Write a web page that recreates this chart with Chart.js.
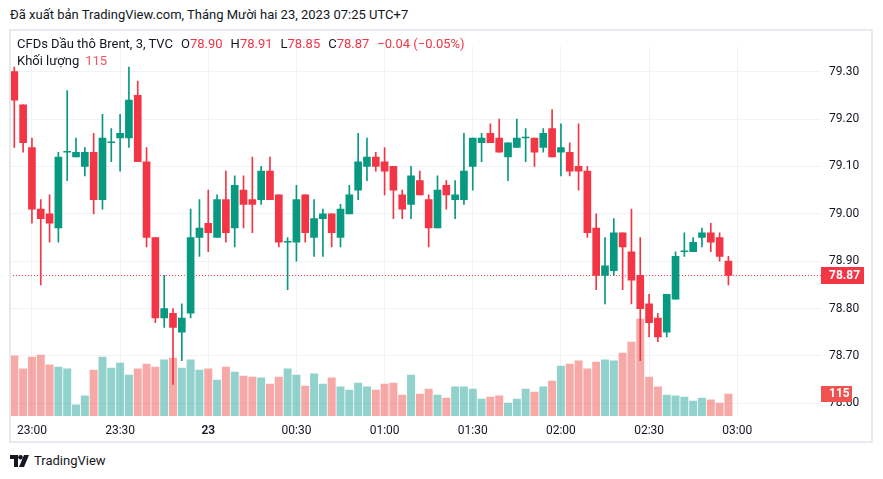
<!DOCTYPE html>
<html>
<head>
<meta charset="utf-8">
<script src="https://cdn.jsdelivr.net/npm/chart.js@4/dist/chart.umd.min.js"></script>
<style>
  html, body { margin:0; padding:0; background:#fff; }
  body { width:883px; height:479px; position:relative; overflow:hidden; font-family: Roboto, "Open Sans", sans-serif; color:#131722; }
  #pub { position:absolute; left:10px; top:6px; font-size:13px; line-height:18px; color:#131722; white-space:nowrap; }
  #box { position:absolute; left:9px; top:29px; width:860px; height:410px; border:2px solid #e8e9ef; }
  #wrap { position:absolute; left:0; top:0; width:860px; height:410px; overflow:hidden; }
  #c { position:absolute; left:-2px; top:0; }
  #leg { position:absolute; left:6px; top:4px; font-size:13px; line-height:17px; white-space:nowrap; z-index:2; }
  #leg .g { margin-left:8px; }
  #leg .r { color:#f23645; }
  #leg .v { color:#f7525f; margin-left:6px; }
  #brand { position:absolute; left:10px; top:452px; font-size:13px; line-height:18px; display:flex; align-items:center; color:#131722; }
  #brand svg { margin-right:5px; }
</style>
</head>
<body>
<div id="pub">Đã xuất bản TradingView.com, Tháng Mười hai 23, 2023 07:25 UTC+7</div>
<div id="box">
  <div id="wrap"><canvas id="c" width="862" height="410"></canvas></div>
  <div id="leg">
    <div><span>CFDs Dầu thô Brent, 3, TVC</span><span class="g">O<span class="r" id="lo"></span></span><span class="g">H<span class="r" id="lh"></span></span><span class="g">L<span class="r" id="ll"></span></span><span class="g">C<span class="r" id="lc"></span></span><span class="g r" id="lchg"></span></div>
    <div><span>Khối lượng</span><span class="v" id="lv"></span></div>
  </div>
</div>
<div id="brand"><svg width="19" height="12" viewBox="0 0 19 12"><path d="M0 0h8v12H4V4H0z" fill="#131722"/><circle cx="10.5" cy="2.3" r="2.3" fill="#131722"/><path d="M14 0h5l-5 12H9z" fill="#131722"/></svg><span>TradingView</span></div>

<script>
// ---- data (3-minute candles, CFDs Brent, TVC) ----
const timeSlots = [
 '22:54','22:57',
 '23:00','23:03','23:06','23:09','23:12','23:15','23:18','23:21','23:24','23:27',
 '23:30','23:33','23:36','23:39','23:42','23:45','23:48','23:51','23:54','23:57',
 '00:00','00:03','00:06','00:09','00:12','00:15','00:18','00:21','00:24','00:27',
 '00:30','00:33','00:36','00:39','00:42','00:45','00:48','00:51','00:54','00:57',
 '01:00','01:03','01:06','01:09','01:12','01:15','01:18','01:21','01:24','01:27',
 '01:30','01:33','01:36','01:39','01:42','01:45','01:48','01:51','01:54','01:57',
 '02:00','02:03','02:06','02:09','02:12','02:15','02:18','02:21','02:24','02:27',
 '02:30','02:33','02:36','02:39','02:42','02:45','02:48','02:51','02:54','02:57',
 '03:00','03:03','03:06','03:09','03:12','03:15','03:18','03:21','03:24','03:27'
];
const opens = [
 79.30,79.23,79.14,79.01,79.00,78.97,79.13,79.12,79.10,79.13,
 79.03,79.15,79.16,79.16,79.25,79.11,78.95,78.78,78.79,78.75,
 78.79,78.95,78.98,78.95,79.03,78.97,79.05,79.03,79.03,79.09,
 79.04,78.94,78.94,79.04,78.95,78.99,79.00,78.95,79.00,79.05,
 79.10,79.12,79.11,79.10,79.04,79.02,79.07,79.03,78.97,79.06,
 79.03,79.03,79.10,79.15,79.17,79.16,79.12,79.14,79.16,79.16,
 79.14,79.18,79.13,79.13,79.10,79.09,78.97,78.87,78.88,78.96,
 78.92,78.87,78.81,78.78,78.75,78.82,78.92,78.92,78.95,78.96,
 78.95,78.90
];
const highs = [
 79.31,79.23,79.16,79.03,79.04,79.13,79.26,79.16,79.14,79.17,
 79.21,79.18,79.21,79.31,79.28,79.14,78.95,78.87,78.80,78.81,
 79.01,79.03,79.05,79.04,79.09,79.08,79.08,79.12,79.10,79.12,
 79.04,78.95,79.06,79.04,79.03,79.01,79.00,79.02,79.06,79.17,
 79.16,79.13,79.14,79.10,79.05,79.10,79.09,79.04,79.08,79.07,
 79.07,79.17,79.16,79.17,79.19,79.20,79.15,79.20,79.18,79.16,
 79.18,79.22,79.19,79.15,79.19,79.10,79.00,78.95,78.99,78.96,
 79.01,78.95,78.83,78.79,78.83,78.92,78.96,78.95,78.97,78.98,
 78.96,78.91
];
const lows = [
 79.14,79.13,78.98,78.85,78.94,78.94,79.07,79.12,79.08,79.00,
 79.01,79.11,79.09,79.14,79.11,78.93,78.77,78.76,78.64,78.69,
 78.78,78.91,78.92,78.95,78.94,78.93,78.97,78.96,79.02,79.03,
 78.93,78.84,78.90,78.94,78.91,78.91,78.93,78.93,79.00,79.03,
 79.07,79.09,79.04,78.99,78.99,78.99,79.04,78.93,78.97,79.01,
 78.99,79.02,79.05,79.11,79.15,79.13,79.07,79.14,79.11,79.10,
 79.13,79.12,79.08,79.08,79.05,78.95,78.84,78.81,78.87,78.84,
 78.81,78.69,78.74,78.73,78.74,78.82,78.91,78.92,78.93,78.92,
 78.90,78.85
];
const closes = [
 79.24,79.15,79.01,78.99,78.98,79.12,79.13,79.13,79.13,79.03,
 79.16,79.15,79.17,79.24,79.11,78.95,78.78,78.80,78.76,78.78,
 78.95,78.97,78.96,79.03,78.96,79.06,79.02,79.02,79.09,79.03,
 78.94,78.94,79.03,78.96,78.99,79.00,78.96,79.01,79.04,79.11,
 79.12,79.10,79.09,79.05,79.01,79.08,79.04,78.97,79.05,79.04,
 79.04,79.09,79.16,79.16,79.15,79.13,79.15,79.16,79.16,79.13,
 79.17,79.12,79.14,79.09,79.09,78.96,78.87,78.89,78.96,78.93,
 78.86,78.80,78.77,78.74,78.83,78.91,78.92,78.94,78.96,78.94,
 78.91,78.87
];
const volumes = [
 314,246,308,319,267,256,246,58,105,240,
 308,251,277,214,246,272,256,293,303,251,
 293,240,246,188,256,230,209,204,199,167,
 204,246,214,157,220,167,199,152,136,172,
 152,136,167,172,110,214,115,141,110,94,
 152,152,141,89,99,105,68,89,141,125,
 152,183,261,272,288,246,282,293,288,329,
 387,507,204,152,110,105,99,78,94,84,
 68,115
];
const priceTicks = [78.60, 78.70, 78.80, 78.90, 79.00, 79.10, 79.20, 79.30];
const xTickTimes = ['23:00','23:30','00:00','00:30','01:00','01:30','02:00','02:30','03:00'];
const xTickText  = ['23:00','23:30','23','00:30','01:00','01:30','02:00','02:30','03:00'];

// ---- styles ----
const UP = '#089981', DOWN = '#f23645';
const VUP = 'rgba(38,166,154,0.5)', VDOWN = 'rgba(239,83,80,0.5)';
const candleColors = opens.map((o, i) => closes[i] >= o ? UP : DOWN);
const volColors = opens.map((o, i) => closes[i] >= o ? VUP : VDOWN);
const bodies = opens.map((o, i) => [o, closes[i]]);
const wicks = lows.map((l, i) => [l, highs[i]]);

// ---- legend text from data ----
const n = closes.length;
const lastC = closes[n - 1], prevC = closes[n - 2];
const chg = lastC - prevC;
const fmt = v => (v < 0 ? '\u2212' : '') + Math.abs(v).toFixed(2);
document.getElementById('lo').textContent = opens[n - 1].toFixed(2);
document.getElementById('lh').textContent = highs[n - 1].toFixed(2);
document.getElementById('ll').textContent = lows[n - 1].toFixed(2);
document.getElementById('lc').textContent = lastC.toFixed(2);
document.getElementById('lchg').textContent = fmt(chg) + ' (' + fmt(chg / prevC * 100) + '%)';
document.getElementById('lv').textContent = String(volumes[n - 1]);

const FONT = 'Roboto, "Open Sans", sans-serif';

// view geometry (canvas pixels) of the price / volume scales
const VIEW = { topTick: 79.30, topY: 40.7, botTick: 78.60, botY: 372.3, volBaseY: 385, volPerPx: 5.227 };

const markers = {
  id: 'markers',
  beforeDatasetsDraw(chart) {
    const { ctx, chartArea, scales } = chart;
    const y = Math.round(scales.y.getPixelForValue(lastC)) + 0.5;
    ctx.save();
    ctx.strokeStyle = DOWN;
    ctx.lineWidth = 1;
    ctx.setLineDash([1, 2]);
    ctx.beginPath();
    ctx.moveTo(chartArea.left, y);
    ctx.lineTo(chartArea.right, y);
    ctx.stroke();
    ctx.restore();
  },
  afterDraw(chart) {
    const { ctx, chartArea, scales } = chart;
    ctx.save();
    ctx.font = 'bold 12px ' + FONT;
    ctx.textBaseline = 'middle';
    ctx.textAlign = 'left';
    let y = scales.y.getPixelForValue(lastC);
    ctx.fillStyle = DOWN;
    ctx.fillRect(chartArea.right, Math.round(y - 8.5), 43, 17);
    ctx.fillStyle = '#fff';
    ctx.fillText(lastC.toFixed(2), chartArea.right + 8, y + 0.5);
    y = scales.yv.getPixelForValue(volumes[n - 1]);
    ctx.fillStyle = '#ef5350';
    ctx.fillRect(chartArea.right, Math.round(y - 8), 31, 16);
    ctx.fillStyle = '#fff';
    ctx.fillText(String(volumes[n - 1]), chartArea.right + 8, y + 0.5);
    ctx.restore();
  }
};

const chart = new Chart(document.getElementById('c'), {
  type: 'bar',
  data: {
    labels: timeSlots,
    datasets: [
      { label: 'body', data: bodies, backgroundColor: candleColors, barThickness: 7, minBarLength: 1, grouped: false, order: 1, yAxisID: 'y', borderWidth: 0 },
      { label: 'wick', data: wicks, backgroundColor: candleColors, barThickness: 1, grouped: false, order: 2, yAxisID: 'y', borderWidth: 0 },
      { label: 'volume', data: volumes, backgroundColor: volColors, barThickness: 7.3, grouped: false, order: 3, yAxisID: 'yv', borderWidth: 0 }
    ]
  },
  options: {
    responsive: false,
    animation: false,
    events: [],
    layout: { padding: 0, autoPadding: false },
    plugins: { legend: { display: false }, tooltip: { enabled: false } },
    scales: {
      x: {
        type: 'category',
        offset: true,
        grid: { offset: false, color: '#f0f3fa', drawTicks: false, lineWidth: 1 },
        border: { display: false },
        afterBuildTicks: s => { s.ticks = s.ticks.filter(t => xTickTimes.includes(timeSlots[t.value])); },
        ticks: {
          autoSkip: false,
          maxRotation: 0,
          padding: 8,
          color: '#131722',
          font: ctx => ({ family: FONT, size: 12, weight: (ctx.tick && timeSlots[ctx.tick.value] === '00:00') ? '600' : 'normal' }),
          callback: function (v) { return xTickText[xTickTimes.indexOf(timeSlots[v])]; }
        },
        afterFit: s => { s.height = 25; }
      },
      y: {
        position: 'right',
        min: 78.5732,
        max: 79.3859,
        afterBuildTicks: s => { s.ticks = priceTicks.map(v => ({ value: v })); },
        grid: { color: '#f0f3fa', drawTicks: false },
        border: { display: false },
        ticks: { padding: 8, color: '#131722', font: { family: FONT, size: 12 }, callback: v => Number(v).toFixed(2) },
        afterFit: s => { s.width = 50; }
      },
      yv: { display: false, min: 0, max: 2012 }
    }
  },
  plugins: [markers]
});

// align the scales to the measured plot area
const T = chart.chartArea.top, B = chart.chartArea.bottom;
const ppu = (VIEW.botY - VIEW.topY) / (VIEW.topTick - VIEW.botTick);
chart.options.scales.y.max = VIEW.topTick + (VIEW.topY - T) / ppu;
chart.options.scales.y.min = VIEW.botTick - (B - VIEW.botY) / ppu;
chart.options.scales.yv.max = (VIEW.volBaseY - T) * VIEW.volPerPx;
chart.options.scales.yv.min = -(B - VIEW.volBaseY) * VIEW.volPerPx;
chart.update();
</script>
</body>
</html>
